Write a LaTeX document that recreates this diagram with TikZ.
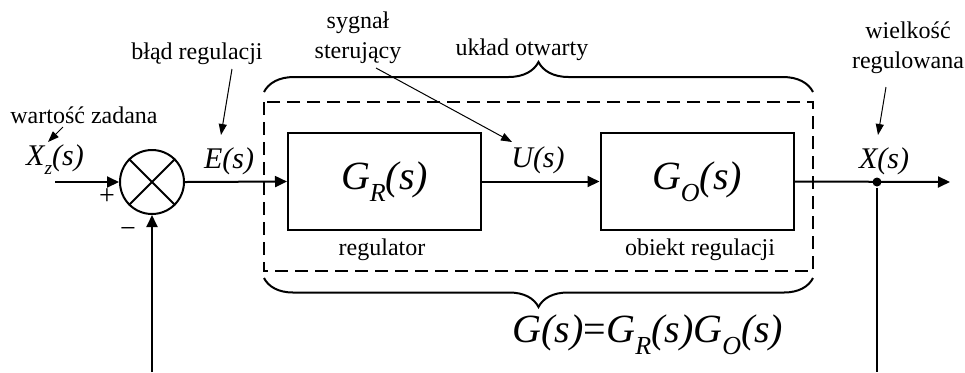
\documentclass[tikz,border=0pt]{standalone}
\usepackage{fontspec}
\setmainfont{Liberation Serif}
\usetikzlibrary{arrows.meta,decorations.pathreplacing}
\newcommand{\indeks}[1]{\raisebox{-0.3em}{\scalebox{0.65}{#1}}}

\begin{document}
\begin{tikzpicture}[x=0.5pt,y=-0.5pt,line width=1pt,
  blok/.style={draw,minimum width=96.5pt,minimum height=48.5pt,inner sep=0pt,font=\fontsize{20}{24}\selectfont\itshape},
  sygn/.style={font=\fontsize{15}{18}\selectfont\itshape,anchor=base,inner sep=0pt},
  opis/.style={font=\fontsize{12}{15}\selectfont,inner sep=0pt},
  strz/.style={-{Triangle[length=6pt,width=5.5pt]}},
  wsk/.style={line width=0.5pt,-{Triangle[length=5.5pt,width=4pt]}},
  klamra/.style={decorate,decoration={brace,amplitude=#1}}]
\useasboundingbox (0,0) rectangle (965,372);

% bloki
\node[draw,circle,minimum size=32pt,inner sep=0pt] (sum) at (152,182) {};
\draw (sum.45) -- (sum.225) (sum.135) -- (sum.315);
\node[blok] (reg) at (384.5,181.5) {G\indeks{R}(s)};
\node[blok] (obj) at (697,181.5) {G\indeks{O}(s)};
\node[circle,fill,inner sep=0pt,minimum size=4.5pt] (wez) at (877,182) {};
\coordinate (we) at (55,182);
\coordinate (wy) at (950,182);
\coordinate (sprL) at (152,372);
\coordinate (sprP) at (877,372);

% sygnaly
\draw[strz] (we) -- (sum.west);
\draw[strz] (sum.east) -- (reg.west);
\draw[strz] (reg.east) -- (obj.west);
\draw[strz] (obj.east) -- (wy);
\draw[strz] (sprL) -- (sum.south);
\draw (wez) -- (sprP);
\node[font=\fontsize{14}{16}\selectfont] (plus) at (107,197) {+};
\node[font=\fontsize{14}{16}\selectfont] (minus) at (128,232) {−};

% uklad otwarty
\draw[dash pattern=on 6.5pt off 3.5pt] (264,102) rectangle (813,271);
\draw[klamra=15pt] (264,92) -- (813,92);
\draw[klamra=14.5pt] (813,278) -- (264,278);

% opisy
\node[sygn] (xz) at (55,165) {X\indeks{z}(s)};
\node[sygn] (e) at (229,168) {E(s)};
\node[sygn] (u) at (538,167) {U(s)};
\node[sygn] (x) at (884,168) {X(s)};
\node[opis,anchor=base] (wz) at (84,123) {wartość zadana};
\node[opis,anchor=base] (br) at (197,59) {błąd regulacji};
\node[opis,align=center] (ss) at (358,38) {sygnał\\sterujący};
\node[opis,anchor=base] (uo) at (522,55) {układ otwarty};
\node[opis,align=center] (wr) at (908,47.5) {wielkość\\regulowana};
\node[opis,anchor=base] (rl) at (382,255) {regulator};
\node[opis,anchor=base] (ob) at (700,255) {obiekt regulacji};
\node[font=\fontsize{20}{24}\selectfont\itshape,anchor=base,inner sep=0pt] (gs) at (648,342) {G(s)\textup{=}G\indeks{R}(s)G\indeks{O}(s)};

% wskazniki
\coordinate (wz1) at (63,127); \coordinate (wz2) at (48,142);
\coordinate (br1) at (232,69); \coordinate (br2) at (221,135);
\coordinate (ss1) at (376,68); \coordinate (ss2) at (512,142);
\coordinate (wr1) at (886,87); \coordinate (wr2) at (878,135);
\draw[wsk] (wz1) -- (wz2);
\draw[wsk] (br1) -- (br2);
\draw[wsk] (ss1) -- (ss2);
\draw[wsk] (wr1) -- (wr2);
\end{tikzpicture}
\end{document}
